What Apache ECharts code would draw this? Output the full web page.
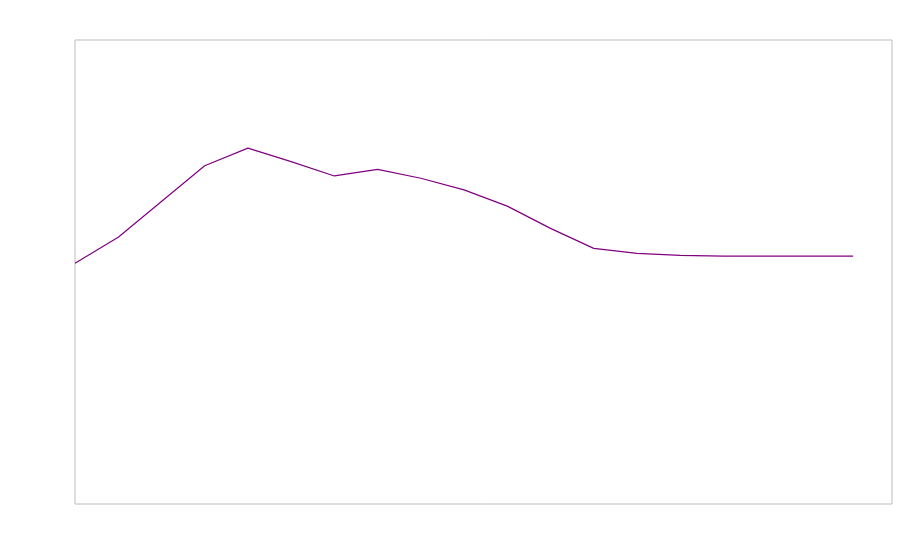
<!DOCTYPE html>
<html>
<head>
<meta charset="utf-8">
<script src="https://cdn.jsdelivr.net/npm/echarts@6/dist/echarts.min.js"></script>
<style>html,body{margin:0;padding:0;background:#fff}#chart{width:900px;height:560px}</style>
</head>
<body>
<div id="chart"></div>
<script>
var xValues = [0,1,2,3,4,5,6,7,8,9,10,11,12,13,14,15,16,17,18];
var yValues = [51.9,57.5,65.2,72.9,76.7,73.8,70.7,72.1,70.2,67.7,64.2,59.4,55.1,54.0,53.6,53.4,53.4,53.4,53.4];

var chart = echarts.init(document.getElementById('chart'), null, {renderer: 'canvas'});
chart.setOption({
  animation: false,
  backgroundColor: '#ffffff',
  grid: {left: 75, top: 40, right: 8, bottom: 56, show: true, borderColor: '#bdbdbd', borderWidth: 1, backgroundColor: 'transparent'},
  xAxis: {type: 'value', min: 0, max: 18.9, show: false},
  yAxis: {type: 'value', min: 0, max: 100, show: false},
  series: [{
    type: 'line',
    data: xValues.map(function (x, i) { return [x, yValues[i]]; }),
    symbol: 'none',
    lineStyle: {color: '#800080', width: 1.2},
    itemStyle: {color: '#800080'}
  }]
});
</script>
</body>
</html>
